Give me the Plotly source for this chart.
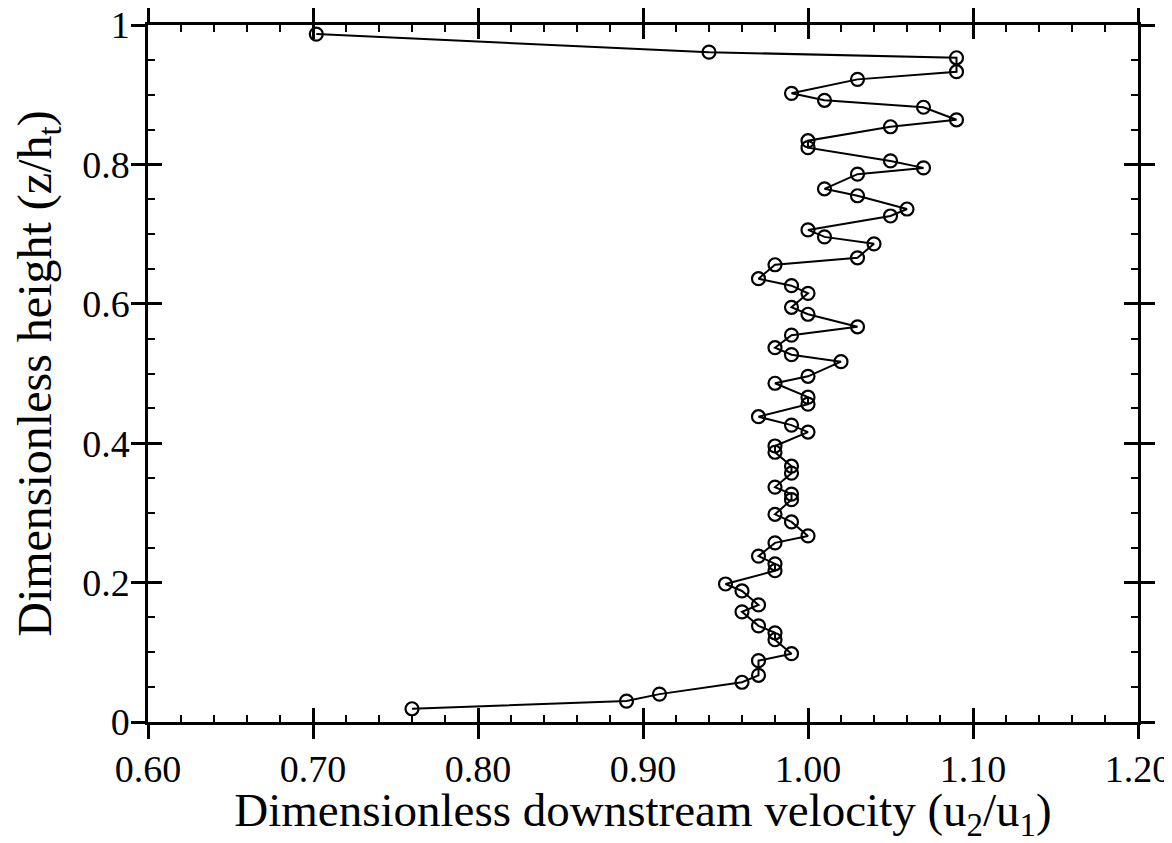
import plotly.graph_objects as go

velocity = [0.702, 0.94, 1.09, 1.09, 1.03, 0.99, 1.01, 1.07, 1.09, 1.05,
            1.00, 1.00, 1.05, 1.07, 1.03, 1.01, 1.03, 1.06, 1.05, 1.00,
            1.01, 1.04, 1.03, 0.98, 0.97, 0.99, 1.00, 0.99, 1.00, 1.03,
            0.99, 0.98, 0.99, 1.02, 1.00, 0.98, 1.00, 1.00, 0.97, 0.99,
            1.00, 0.98, 0.98, 0.99, 0.99, 0.98, 0.99, 0.99, 0.98, 0.99,
            1.00, 0.98, 0.97, 0.98, 0.98, 0.95, 0.96, 0.97, 0.96, 0.97,
            0.98, 0.98, 0.99, 0.97, 0.97, 0.96, 0.91, 0.89, 0.76]
height = [0.987, 0.961, 0.953, 0.933, 0.922, 0.902, 0.892, 0.882, 0.864, 0.854,
          0.834, 0.824, 0.805, 0.795, 0.786, 0.765, 0.755, 0.736, 0.726, 0.706,
          0.696, 0.686, 0.666, 0.656, 0.636, 0.626, 0.615, 0.595, 0.585, 0.567,
          0.555, 0.537, 0.527, 0.517, 0.496, 0.486, 0.466, 0.456, 0.438, 0.426,
          0.416, 0.396, 0.387, 0.367, 0.357, 0.337, 0.327, 0.319, 0.298, 0.287,
          0.267, 0.257, 0.238, 0.227, 0.217, 0.198, 0.188, 0.168, 0.158, 0.138,
          0.128, 0.118, 0.098, 0.088, 0.067, 0.057, 0.040, 0.030, 0.019]

x_range = [0.6, 1.2]
y_range = [0, 1]
x_title = "Dimensionless downstream velocity (u<sub>2</sub>/u<sub>1</sub>)"
y_title = "Dimensionless height (z/h<sub>t</sub>)"

FONT = "Liberation Serif, Times New Roman, serif"

fig = go.Figure()
fig.add_trace(go.Scatter(
    x=velocity, y=height, mode="lines+markers",
    line=dict(color="black", width=2),
    marker=dict(symbol="circle-open", size=13, color="black", line=dict(width=2.2, color="black")),
    showlegend=False, cliponaxis=False))
# invisible helper trace so the overlay axes (inward tick halves) are drawn
fig.add_trace(go.Scatter(
    x=velocity, y=height, xaxis="x2", yaxis="y2", mode="markers",
    marker=dict(opacity=0), showlegend=False, hoverinfo="skip"))

common = dict(showgrid=False, zeroline=False, showline=True, linecolor="black",
              linewidth=2.5, tickcolor="black", tickwidth=2.5, mirror="ticks",
              fixedrange=True, automargin=False, ticklabeloverflow="allow")

fig.update_layout(
    width=1164, height=835,
    paper_bgcolor="white", plot_bgcolor="white",
    margin=dict(l=140, r=34, t=17, b=121),
    font=dict(family=FONT, color="black"),
    xaxis=dict(range=x_range, tick0=0.6, dtick=0.1, tickformat=".2f",
               ticks="outside", ticklen=14, ticklabelstandoff=-2,
               tickfont=dict(size=38, family=FONT),
               title=dict(text=x_title, font=dict(size=47, family=FONT), standoff=10),
               **common),
    yaxis=dict(range=y_range, tick0=0, dtick=0.2,
               ticks="outside", ticklen=14, ticklabelstandoff=-6,
               tickfont=dict(size=38, family=FONT),
               title=dict(text=y_title, font=dict(size=48, family=FONT), standoff=22),
               **common),
    xaxis2=dict(range=x_range, overlaying="x", side="bottom", tick0=0.6, dtick=0.1,
                ticks="inside", ticklen=14, showticklabels=False,
                minor=dict(ticks="inside", ticklen=7, tick0=0.6, dtick=0.02,
                           tickcolor="black", tickwidth=1.8),
                **common),
    yaxis2=dict(range=y_range, overlaying="y", side="left", tick0=0, dtick=0.2,
                ticks="inside", ticklen=14, showticklabels=False,
                minor=dict(ticks="inside", ticklen=7, tick0=0, dtick=0.05,
                           tickcolor="black", tickwidth=1.8),
                **common),
)

fig.write_html("out.html")
